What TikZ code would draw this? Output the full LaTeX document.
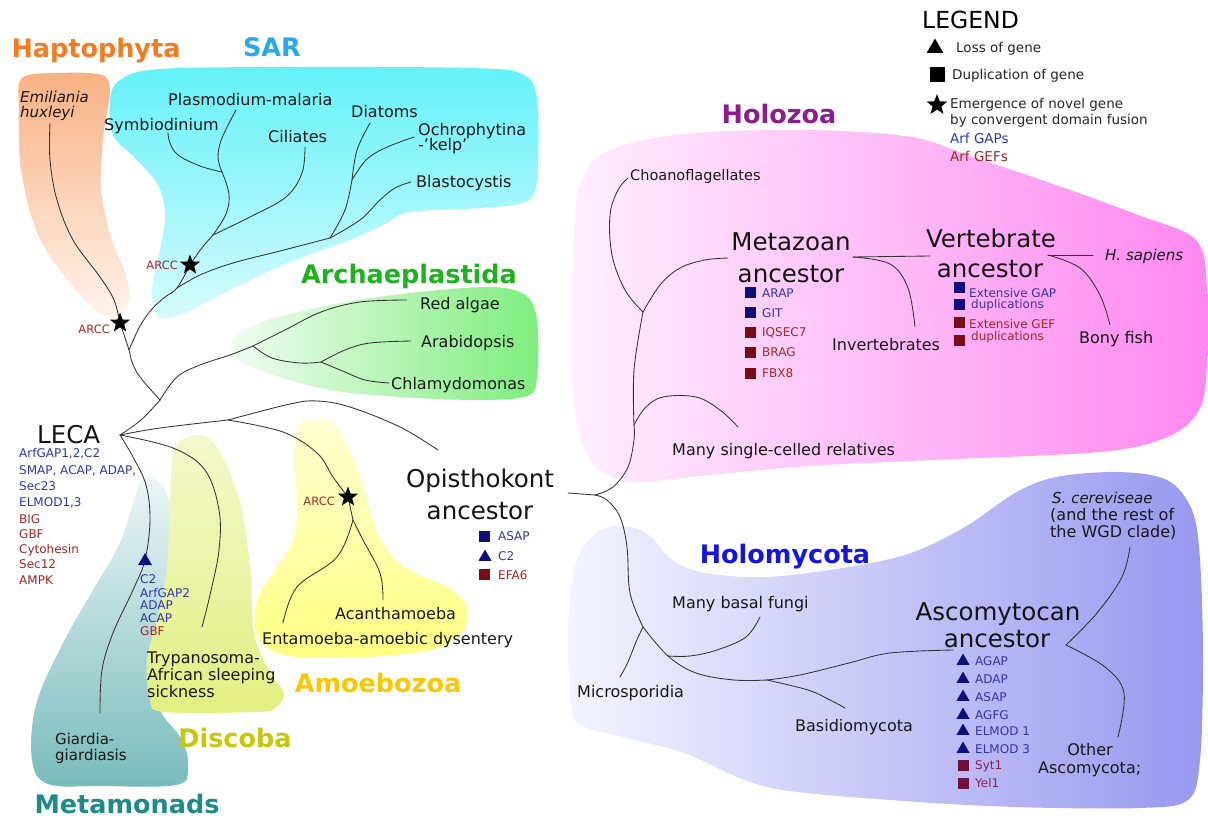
\documentclass[tikz,border=0pt]{standalone}
\usepackage{fontspec}
\setmainfont{DejaVu Sans}
\usetikzlibrary{shapes.geometric}
\definecolor{cHapto}{HTML}{F47B20}
\definecolor{cSAR}{HTML}{29A9E8}
\definecolor{cArch}{HTML}{1DB31D}
\definecolor{cHolo}{HTML}{8E1A8E}
\definecolor{cHmy}{HTML}{1515E0}
\definecolor{cAmoe}{HTML}{F8C800}
\definecolor{cDisc}{HTML}{C8C80A}
\definecolor{cMeta}{HTML}{1E8A8A}
\definecolor{gapblue}{HTML}{3535A8}
\definecolor{gefred}{HTML}{A02828}
\definecolor{navy}{HTML}{0E0E7C}
\definecolor{darkred}{HTML}{7C0C14}
\definecolor{plum}{HTML}{6E1040}
\definecolor{plumtext}{HTML}{8C2255}
\newcommand\fLeaf{\fontsize{16}{19}\selectfont}
\newcommand\fLeafS{\fontsize{14.5}{17}\selectfont}
\newcommand\fBig{\fontsize{24.5}{28}\selectfont}
\newcommand\fHead{\fontsize{25.5}{30}\selectfont\bfseries}
\newcommand\fGene{\fontsize{12}{14}\selectfont}
\newcommand\fLeg{\fontsize{13.5}{16}\selectfont}
\newcommand\fArcc{\fontsize{11.5}{13}\selectfont}
\tikzset{
  branch/.style={draw=black!80, line width=0.85pt, line cap=round},
  leaf/.style={font=\fLeaf, anchor=base west, inner sep=0pt, text=black!90},
  leafs/.style={leaf, font=\fLeafS},
  big/.style={font=\fBig, anchor=base, inner sep=0pt, text=black!92},
  head/.style={font=\fHead, anchor=base, inner sep=0pt},
  gene/.style={font=\fGene, anchor=base west, inner sep=0pt},
  gap/.style={gene, text=gapblue},
  gef/.style={gene, text=gefred},
  arcc/.style={font=\fArcc, anchor=base east, inner sep=0pt, text=gefred},
  legtext/.style={font=\fLeg, anchor=base west, inner sep=0pt, text=black!85},
  starmark/.style={star, star points=5, star point ratio=2.4, fill=black, draw=none, inner sep=0pt, minimum size=21pt},
  trimark/.style={regular polygon, regular polygon sides=3, fill=navy, draw=none, inner sep=0pt, minimum size=16pt},
  sqmark/.style={rectangle, draw=none, inner sep=0pt, minimum size=11pt},
  blob/.style={draw=none},
}
\begin{document}
\begin{tikzpicture}[x=1pt,y=-1pt]
\useasboundingbox (0,0) rectangle (1208,819);
\fill[white] (0,0) rectangle (1208,819);

% ---------------- blobs ----------------
\shade[blob, top color={rgb,255:red,237;green,246;blue,247}, bottom color={rgb,255:red,120;green,187;blue,188}]
 plot[smooth cycle, tension=0.6] coordinates {(143,478) (162,485) (174,520) (173,565) (160,620) (152,670) (160,710) (182,740) (188,768) (176,785) (100,786) (48,784) (32,760) (36,705) (62,645) (93,590) (120,543) (134,500)};
\shade[blob, top color={rgb,255:red,244;green,249;blue,205}, bottom color={rgb,255:red,226;green,239;blue,128}]
 plot[smooth cycle, tension=0.6] coordinates {(185,438) (212,441) (238,495) (250,567) (254,633) (270,673) (284,693) (275,708) (255,712) (165,712) (150,700) (147,660) (158,617) (167,567) (170,500) (173,455)};
\shade[blob, top color={rgb,255:red,255;green,255;blue,210}, bottom color={rgb,255:red,255;green,255;blue,130}]
 plot[smooth cycle, tension=0.6] coordinates {(306,421) (333,424) (357,467) (377,532) (403,566) (447,587) (467,607) (462,632) (430,650) (363,657) (297,657) (266,647) (255,627) (258,598) (273,573) (293,540) (297,500) (293,460) (296,432)};
\shade[blob, top color={rgb,255:red,248;green,178;blue,131}, bottom color={rgb,255:red,255;green,243;blue,236}]
 plot[smooth cycle, tension=0.55] coordinates {(22,78) (60,73) (102,75) (110,92) (104,130) (101,190) (112,240) (126,275) (129,300) (118,316) (98,312) (70,283) (38,235) (21,170) (19,110)};
\shade[blob, top color={rgb,255:red,100;green,242;blue,249}, bottom color={rgb,255:red,215;green,251;blue,253}]
 plot[smooth cycle, tension=0.55] coordinates {(120,80) (160,69) (300,67) (470,68) (522,74) (537,100) (537,180) (525,202) (480,208) (410,212) (385,224) (350,240) (290,262) (230,290) (180,315) (158,316) (152,290) (160,250) (165,215) (158,185) (135,158) (113,135) (110,100)};
\shade[blob, left color={rgb,255:red,242;green,252;blue,242}, right color={rgb,255:red,126;green,238;blue,126}]
 plot[smooth cycle, tension=0.55] coordinates {(232,340) (262,322) (330,305) (410,293) (490,287) (525,295) (537,320) (537,378) (527,396) (480,400) (400,397) (330,390) (270,374) (236,358)};
\shade[blob, left color={rgb,255:red,255;green,239;blue,255}, right color={rgb,255:red,255;green,136;blue,240}]
 plot[smooth cycle, tension=0.55] coordinates {(580,185) (605,152) (684,134) (808,130) (911,137) (973,157) (1056,185) (1138,215) (1196,240) (1207,290) (1206,380) (1196,415) (1165,438) (1100,452) (932,460) (808,466) (700,476) (632,482) (597,468) (580,435) (572,380) (572,300) (575,220)};
\shade[blob, left color={rgb,255:red,244;green,244;blue,255}, right color={rgb,255:red,152;green,152;blue,240}]
 plot[smooth cycle, tension=0.55] coordinates {(572,710) (568,627) (577,560) (601,530) (630,527) (651,537) (672,560) (705,573) (767,577) (849,567) (911,553) (965,527) (1015,493) (1056,477) (1118,472) (1167,480) (1192,510) (1200,560) (1203,660) (1200,760) (1188,800) (1139,808) (1015,807) (890,800) (767,787) (684,753) (622,737) (585,727)};

% ---------------- junction coordinates ----------------
\coordinate (root) at (120,435);
\coordinate (j1) at (160,400);
\coordinate (hsplit) at (129,350);
\coordinate (sarsplit) at (177,288);
\coordinate (alv) at (213,235);
\coordinate (bnode) at (222,172);
\coordinate (cnode) at (330,238);
\coordinate (dnode) at (352,180);
\coordinate (arch) at (253,346);
\coordinate (enode) at (321,362);
\coordinate (j2) at (228,420);
\coordinate (oend) at (438,450);
\coordinate (anode) at (353,520);
\coordinate (ostart) at (568,493);
\coordinate (onode) at (595,495);
\coordinate (msc) at (634,425);
\coordinate (hz) at (643,312);
\coordinate (mr) at (853,257);
\coordinate (vl) at (930,256);
\coordinate (vr) at (1048,255);
\coordinate (mic) at (643,627);
\coordinate (mbf) at (668,656);
\coordinate (dk) at (767,680);
\coordinate (asend) at (953,650);
\coordinate (as) at (1066,645);
% leaf ends
\coordinate (eHux) at (50,123);
\coordinate (eSym) at (168,133);
\coordinate (ePla) at (236,110);
\coordinate (eCil) at (305,147);
\coordinate (eDia) at (370,123);
\coordinate (eOch) at (414,137);
\coordinate (eBla) at (411,182);
\coordinate (eRed) at (407,300);
\coordinate (eAra) at (411,341);
\coordinate (eChl) at (389,383);
\coordinate (eTry) at (202,627);
\coordinate (eGia) at (100,713);
\coordinate (eEnt) at (283,623);
\coordinate (eAca) at (383,600);
\coordinate (eCho) at (628,178);
\coordinate (eMsc) at (738,427);
\coordinate (eMet) at (728,258);
\coordinate (eInv) at (915,327);
\coordinate (eHsa) at (1093,255);
\coordinate (eBon) at (1110,325);
\coordinate (eMic) at (620,677);
\coordinate (eMbf) at (760,617);
\coordinate (eBas) at (845,708);
\coordinate (eSce) at (1130,547);
\coordinate (eOth) at (1118,737);

% ---------------- star positions ----------------
\coordinate (sHap) at (120,323);
\coordinate (sSAR) at (190,265);
\coordinate (sAmo) at (348,497);

% ---------------- branches ----------------
\draw[branch] plot[smooth, tension=0.6] coordinates {(root) (141,420) (j1)};
\draw[branch] plot[smooth, tension=0.6] coordinates {(j1) (140,377) (132,362) (hsplit) (sHap)};
\draw[branch] plot[smooth, tension=0.6] coordinates {(sHap) (114,300) (100,277) (73,240) (57,200) (50,160) (eHux)};
\draw[branch] plot[smooth, tension=0.6] coordinates {(hsplit) (140,326) (152,309) (165,297) (sarsplit) (sSAR)};
\draw[branch] plot[smooth, tension=0.6] coordinates {(sarsplit) (200,275) (233,263) (280,251) (cnode)};
\draw[branch] plot[smooth, tension=0.6] coordinates {(sSAR) (201,249) (alv)};
\draw[branch] plot[smooth, tension=0.6] coordinates {(alv) (226,214) (229,194) (bnode)};
\draw[branch] plot[smooth, tension=0.6] coordinates {(bnode) (200,166) (178,155) (170,143) (eSym)};
\draw[branch] plot[smooth, tension=0.6] coordinates {(bnode) (218,157) (222,138) (ePla)};
\draw[branch] plot[smooth, tension=0.6] coordinates {(alv) (250,217) (286,197) (302,173) (eCil)};
\draw[branch] plot[smooth, tension=0.6] coordinates {(cnode) (345,210) (dnode)};
\draw[branch] plot[smooth, tension=0.6] coordinates {(dnode) (357,150) (eDia)};
\draw[branch] plot[smooth, tension=0.6] coordinates {(dnode) (366,160) (385,148) (eOch)};
\draw[branch] plot[smooth, tension=0.6] coordinates {(cnode) (360,220) (380,200) (395,188) (eBla)};
\draw[branch] plot[smooth, tension=0.6] coordinates {(j1) (177,377) (200,365) (230,355) (arch)};
\draw[branch] plot[smooth, tension=0.6] coordinates {(arch) (285,330) (321,312) (360,302) (eRed)};
\draw[branch] plot[smooth, tension=0.6] coordinates {(arch) (272,358) (300,363) (enode)};
\draw[branch] plot[smooth, tension=0.6] coordinates {(enode) (345,350) (370,343) (eAra)};
\draw[branch] plot[smooth, tension=0.6] coordinates {(enode) (345,372) (365,380) (eChl)};
\draw[branch] plot[smooth, tension=0.6] coordinates {(root) (160,428) (j2)};
\draw[branch] plot[smooth, tension=0.6] coordinates {(j2) (290,404) (317,401) (350,407) (400,427) (oend)};
\draw[branch] plot[smooth, tension=0.6] coordinates {(j2) (283,432) (317,453) (333,477) (sAmo)};
\draw[branch] (sAmo) -- (anode);
\draw[branch] plot[smooth, tension=0.6] coordinates {(anode) (337,557) (297,587) (eEnt)};
\draw[branch] plot[smooth, tension=0.6] coordinates {(anode) (363,540) (380,573) (eAca)};
\draw[branch] plot[smooth, tension=0.6] coordinates {(root) (173,448) (205,470) (219,510) (219,550) (210,595) (eTry)};
\draw[branch] plot[smooth, tension=0.6] coordinates {(root) (133,457) (146,485) (150,520) (145,560) (133,590) (113,633) (102,670) (eGia)};
\draw[branch] (ostart) -- (onode);
\draw[branch] plot[smooth, tension=0.6] coordinates {(onode) (613,487) (628,467) (634,440) (msc)};
\draw[branch] plot[smooth, tension=0.6] coordinates {(msc) (634,370) (hz)};
\draw[branch] plot[smooth, tension=0.6] coordinates {(msc) (645,408) (663,397) (696,397) (720,410) (eMsc)};
\draw[branch] plot[smooth, tension=0.6] coordinates {(hz) (625,290) (612,255) (610,215) (618,190) (eCho)};
\draw[branch] plot[smooth, tension=0.6] coordinates {(hz) (660,285) (680,268) (705,260) (eMet)};
\draw[branch] (mr) -- (vl);
\draw[branch] plot[smooth, tension=0.6] coordinates {(mr) (890,264) (908,288) (eInv)};
\draw[branch] (vr) -- (eHsa);
\draw[branch] plot[smooth, tension=0.6] coordinates {(vr) (1080,268) (1100,295) (eBon)};
\draw[branch] plot[smooth, tension=0.6] coordinates {(onode) (607,500) (620,517) (627,547) (630,593) (mic)};
\draw[branch] plot[smooth, tension=0.6] coordinates {(mic) (636,642) (628,662) (eMic)};
\draw[branch] plot[smooth, tension=0.6] coordinates {(mic) (mbf) (696,673) (734,680) (dk)};
\draw[branch] plot[smooth, tension=0.6] coordinates {(mbf) (690,656) (717,650) (746,637) (eMbf)};
\draw[branch] plot[smooth, tension=0.6] coordinates {(dk) (808,690) (830,700) (eBas)};
\draw[branch] plot[smooth, tension=0.6] coordinates {(dk) (800,675) (849,663) (890,653) (asend)};
\draw[branch] plot[smooth, tension=0.6] coordinates {(as) (1097,613) (1122,577) (eSce)};
\draw[branch] plot[smooth, tension=0.6] coordinates {(as) (1105,667) (1124,693) (eOth)};

% stars on top
\node[starmark] (stHap) at (sHap) {};
\node[starmark] (stSAR) at (sSAR) {};
\node[starmark] (stAmo) at (sAmo) {};
\node[arcc] (aHap) at (110,333) {ARCC};
\node[arcc] (aSAR) at (178,269) {ARCC};
\node[arcc] (aAmo) at (335,505) {ARCC};

% ---------------- headings ----------------
\node[head, text=cHapto] (hHap) at (96,57) {Haptophyta};
\node[head, text=cSAR] (hSAR) at (272,56) {SAR};
\node[head, text=cArch] (hArch) at (409,283) {Archaeplastida};
\node[head, text=cHolo] (hHolo) at (779,123) {Holozoa};
\node[head, text=cHmy] (hHmy) at (785,563) {Holomycota};
\node[head, text=cAmoe] (hAmo) at (378,692) {Amoebozoa};
\node[head, text=cDisc] (hDis) at (235,747) {Discoba};
\node[head, text=cMeta] (hMet) at (127,813) {Metamonads};

% ---------------- leaves ----------------
\node[leaf, font=\fontsize{15}{17}\selectfont\itshape] (tEmi) at (20,102) {Emiliania};
\node[leaf, font=\fontsize{15}{17}\selectfont\itshape] (tHux) at (20,117) {huxleyi};
\node[leaf] (tSym) at (104,130) {Symbiodinium};
\node[leaf] (tPla) at (168,105) {Plasmodium-malaria};
\node[leaf] (tCil) at (268,142) {Ciliates};
\node[leaf] (tDia) at (351,117) {Diatoms};
\node[leaf] (tOch) at (418,135) {Ochrophytina};
\node[leaf] (tKel) at (418,150) {-'kelp'};
\node[leaf] (tBla) at (416,187) {Blastocystis};
\node[leaf] (tRed) at (420,309) {Red algae};
\node[leaf] (tAra) at (421,347) {Arabidopsis};
\node[leaf] (tChl) at (391,389) {Chlamydomonas};
\node[leaf] (tTry1) at (147,663) {Trypanosoma-};
\node[leaf] (tTry2) at (147,680) {African sleeping};
\node[leaf] (tTry3) at (147,697) {sickness};
\node[leaf] (tAca) at (335,619) {Acanthamoeba};
\node[leaf] (tEnt) at (262,644) {Entamoeba-amoebic dysentery};
\node[leaf, font=\fontsize{15}{17}\selectfont] (tGia1) at (55,744) {Giardia-};
\node[leaf, font=\fontsize{15}{17}\selectfont] (tGia2) at (55,760) {giardiasis};
\node[leafs] (tCho) at (630,180) {Choanoflagellates};
\node[leaf] (tMsc) at (672,455) {Many single-celled relatives};
\node[leaf] (tInv) at (832,350) {Invertebrates};
\node[leaf] (tBon) at (1079,343) {Bony fish};
\node[leaf, font=\fontsize{15}{17}\selectfont\itshape] (tHsa) at (1105,260) {H. sapiens};
\node[leaf] (tMbf) at (672,608) {Many basal fungi};
\node[leaf] (tMic) at (577,697) {Microsporidia};
\node[leaf] (tBas) at (795,731) {Basidiomycota};
\node[leaf, font=\fontsize{15}{17}\selectfont\itshape] (tSce1) at (1052,503) {S. cereviseae};
\node[leaf] (tSce2) at (1050,520) {(and the rest of};
\node[leaf] (tSce3) at (1050,537) {the WGD clade)};
\node[leaf, anchor=base] (tOth1) at (1090,755) {Other};
\node[leaf] (tOth2) at (1038,773) {Ascomycota;};

% ---------------- ancestors ----------------
\node[big, anchor=base west] (tLECA) at (37,443) {LECA};
\node[big] (tOpi1) at (480,487) {Opisthokont};
\node[big] (tOpi2) at (480,519) {ancestor};
\node[big] (tMeta1) at (791,250) {Metazoan};
\node[big] (tMeta2) at (791,282) {ancestor};
\node[big] (tVert1) at (991,247) {Vertebrate};
\node[big] (tVert2) at (990,277) {ancestor};
\node[big] (tAsc1) at (998,620) {Ascomytocan};
\node[big] (tAsc2) at (997,647) {ancestor};

% ---------------- LECA gene list ----------------
\node[gap] (g1) at (19,457) {ArfGAP1,2,C2};
\node[gap] (g2) at (19,474) {SMAP, ACAP, ADAP,};
\node[gap] (g3) at (19,490) {Sec23};
\node[gap] (g4) at (19,506) {ELMOD1,3};
\node[gef] (g5) at (19,523) {BIG};
\node[gef] (g6) at (19,538) {GBF};
\node[gef] (g7) at (19,553) {Cytohesin};
\node[gef] (g8) at (19,568) {Sec12};
\node[gef] (g9) at (19,584) {AMPK};

% Metamonad loss triangle
\node[trimark] (mTri) at (145,561) {};
\node[gap] (l1) at (140,583) {C2};
\node[gap] (l2) at (140,597) {ArfGAP2};
\node[gap] (l3) at (140,609) {ADAP};
\node[gap] (l4) at (140,622) {ACAP};
\node[gef] (l5) at (140,635) {GBF};

% Opisthokont markers
\node[sqmark, fill=navy] (oS1) at (484,536) {};
\node[gap] (oT1) at (498,540) {ASAP};
\node[trimark, minimum size=15pt] (oS2) at (485,557) {};
\node[gap] (oT2) at (498,560) {C2};
\node[sqmark, fill=darkred] (oS3) at (484,574) {};
\node[gef] (oT3) at (498,579) {EFA6};

% Metazoan markers
\node[sqmark, fill=navy] (zS1) at (750,292) {};
\node[gap] (zT1) at (762,297) {ARAP};
\node[sqmark, fill=navy] (zS2) at (750,312) {};
\node[gap] (zT2) at (762,317) {GIT};
\node[sqmark, fill=darkred] (zS3) at (750,332) {};
\node[gef] (zT3) at (762,336) {IQSEC7};
\node[sqmark, fill=darkred] (zS4) at (750,352) {};
\node[gef] (zT4) at (762,356) {BRAG};
\node[sqmark, fill=darkred] (zS5) at (750,373) {};
\node[gef] (zT5) at (762,377) {FBX8};

% Vertebrate markers
\node[sqmark, fill=navy] (vS1) at (959,287) {};
\node[sqmark, fill=navy] (vS2) at (959,304) {};
\node[sqmark, fill=darkred] (vS3) at (959,322) {};
\node[sqmark, fill=darkred] (vS4) at (959,340) {};
\node[gap] (vT1) at (969,297) {Extensive GAP};
\node[gap] (vT2) at (971,308) {duplications};
\node[gef] (vT3) at (969,328) {Extensive GEF};
\node[gef] (vT4) at (971,340) {duplications};

% Ascomytocan markers
\node[trimark, minimum size=15pt] (cS1) at (963,661) {};
\node[trimark, minimum size=15pt] (cS2) at (963,679) {};
\node[trimark, minimum size=15pt] (cS3) at (963,697) {};
\node[trimark, minimum size=15pt] (cS4) at (963,715) {};
\node[trimark, minimum size=15pt] (cS5) at (963,731) {};
\node[trimark, minimum size=15pt] (cS6) at (963,749) {};
\node[sqmark, fill=plum] (cS7) at (963,765) {};
\node[sqmark, fill=plum] (cS8) at (963,783) {};
\node[gap] (cT1) at (975,665) {AGAP};
\node[gap] (cT2) at (975,683) {ADAP};
\node[gap] (cT3) at (975,701) {ASAP};
\node[gap] (cT4) at (975,719) {AGFG};
\node[gap] (cT5) at (975,735) {ELMOD 1};
\node[gap] (cT6) at (975,753) {ELMOD 3};
\node[gene, text=plumtext] (cT7) at (975,769) {Syt1};
\node[gene, text=plumtext] (cT8) at (975,787) {Yel1};

% ---------------- legend ----------------
\node[font=\fontsize{23.5}{27}\selectfont, anchor=base west, inner sep=0pt] (leg) at (922,28) {LEGEND};
\node[regular polygon, regular polygon sides=3, fill=black, inner sep=0pt, minimum size=19pt] (legTri) at (935,48) {};
\node[legtext] (legT1) at (956,52) {Loss of gene};
\node[rectangle, fill=black, inner sep=0pt, minimum size=15pt] (legSq) at (937,74) {};
\node[legtext] (legT2) at (952,79) {Duplication of gene};
\node[starmark, minimum size=22pt] (legSt) at (937,105) {};
\node[legtext] (legT3) at (950,108) {Emergence of novel gene};
\node[legtext] (legT4) at (950,124) {by convergent domain fusion};
\node[legtext, text=gapblue] (legT5) at (950,143) {Arf GAPs};
\node[legtext, text=gefred] (legT6) at (950,161) {Arf GEFs};
\end{tikzpicture}
\end{document}
